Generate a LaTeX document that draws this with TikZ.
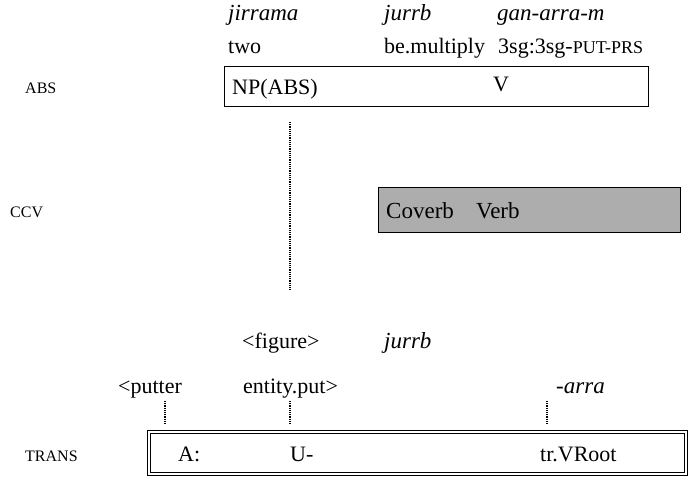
\documentclass[tikz,border=0pt]{standalone}
\usepackage{fontspec}
\setmainfont{Liberation Serif}
\begin{document}
\begin{tikzpicture}[x=1pt,y=-1pt,
  txt/.style={inner sep=0pt,anchor=base west,font=\fontsize{22}{26}\selectfont},
  itx/.style={txt,font=\fontsize{23}{26}\selectfont\itshape},
  lbl/.style={inner sep=0pt,anchor=base west,font=\fontsize{16}{18}\selectfont},
  dots/.style={densely dotted,line width=1.2pt},
  absbox/.style={draw,line width=0.9pt},
  ccvbox/.style={draw,line width=1pt,fill=black!32},
  transbox/.style={draw,double,double distance=2pt,line width=1.2pt}]
\useasboundingbox (0,0) rectangle (698,478);

% word line and gloss line
\node[itx] (w1) at (228,21) {jirrama};
\node[itx] (w2) at (384,21) {jurrb};
\node[itx] (w3) at (497,21) {gan-arra-m};
\node[txt] (g1) at (228,54) {two};
\node[txt] (g2) at (384,54) {be.multiply};
\node[txt] (g3) at (498,54) {3sg:3sg-{\fontsize{18}{20}\selectfont PUT-PRS}};

% ABS layer
\node[lbl] (abs) at (25,94) {ABS};
\draw[absbox] (224,66) rectangle (648,106);
\node[txt] (np) at (232,95) {NP(ABS)};
\node[txt] (v) at (493,92) {V};
\coordinate (d1a) at (290,122);
\coordinate (d1b) at (290,290);
\draw[dots] (d1a) -- (d1b);

% CCV layer
\node[lbl] (ccv) at (10,218) {CCV};
\draw[ccvbox] (378,188) rectangle (680,233);
\node[txt,font=\fontsize{23}{26}\selectfont] (cov) at (386,219) {Coverb};
\node[txt,font=\fontsize{23}{26}\selectfont] (verb) at (476,219) {Verb};

% argument structure of the coverb and verb
\node[txt] (fig) at (242,348) {<figure>};
\node[itx] (w4) at (384,348) {jurrb};
\node[txt] (put) at (118,393) {<putter};
\node[txt] (ent) at (243,393) {entity.put>};
\node[itx] (arra) at (556,393) {-arra};
\foreach \x/\n in {165/p,290/e,547/a}{
  \coordinate (\n1) at (\x,401);
  \coordinate (\n2) at (\x,424);
  \draw[dots] (\n1) -- (\n2);
}

% TRANS layer
\node[lbl] (trans) at (25,461) {TRANS};
\draw[transbox] (149,432) rectangle (686,474);
\node[txt] (a) at (178,461) {A:};
\node[txt] (u) at (290,461) {U-};
\node[txt] (tr) at (540,461) {tr.VRoot};
\end{tikzpicture}
\end{document}
